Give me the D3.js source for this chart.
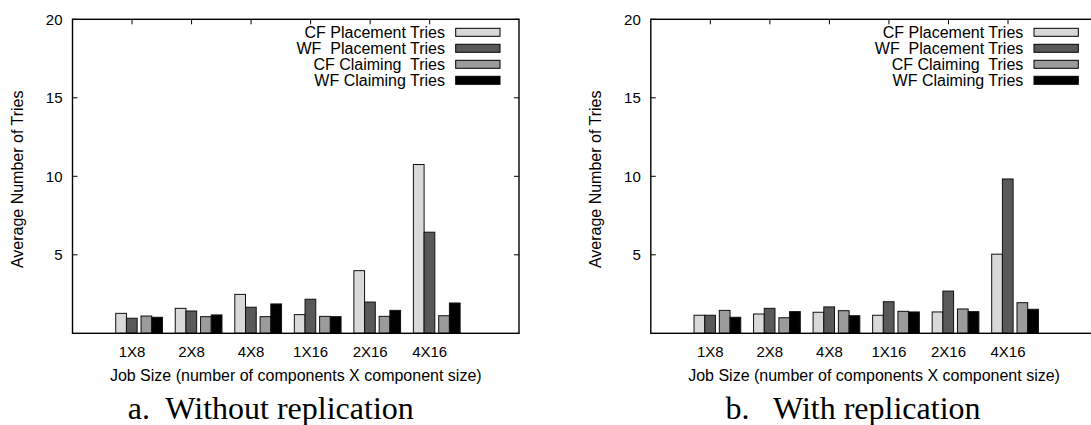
<!DOCTYPE html>
<html>
<head>
<meta charset="utf-8">
<script src="https://cdn.jsdelivr.net/npm/d3@7"></script>
<style>
  html, body { margin: 0; padding: 0; background: #fff; }
  svg { display: block; }
  text { font-family: "Liberation Sans", Arial, Helvetica, sans-serif; fill: #000; white-space: pre; }
  .caption { font-family: "Liberation Serif", "Times New Roman", serif; }
</style>
</head>
<body>
<svg id="chart" width="1091" height="425"></svg>
<script>
// ---- data ----
const categories = ["1X8", "2X8", "4X8", "1X16", "2X16", "4X16"];
const seriesNames = ["CF Placement Tries", "WF  Placement Tries", "CF Claiming  Tries", "WF Claiming Tries"];
const yTicks = [5, 10, 15, 20];

// a. Without replication
const noRepCFPlacement = [1.27, 1.59, 2.48, 1.19, 3.99, 10.75];
const noRepWFPlacement = [0.96, 1.42, 1.66, 2.17, 1.99, 6.44];
const noRepCFClaiming  = [1.10, 1.06, 1.06, 1.08, 1.08, 1.12];
const noRepWFClaiming  = [1.02, 1.17, 1.87, 1.06, 1.46, 1.93];

// b. With replication
const repCFPlacement = [1.15, 1.23, 1.34, 1.15, 1.36, 5.04];
const repWFPlacement = [1.15, 1.59, 1.68, 2.01, 2.69, 9.83];
const repCFClaiming  = [1.46, 0.99, 1.44, 1.40, 1.55, 1.95];
const repWFClaiming  = [1.02, 1.38, 1.12, 1.36, 1.38, 1.53];

const captions = ["a.  Without replication", "b.   With replication"];

// ---- style / layout ----
const colors = ["#d9d9d9", "#595959", "#9b9b9b", "#000000"];
const barOffsets = [-0.274, -0.094, 0.151, 0.331];
const barWidth = 0.18;

const svg = d3.select("#chart");

function drawPanel(dx, series, caption, capShift) {
  const left = 72.5 + dx, right = 519 + dx, top = 19.3, bottom = 333.3;
  const x = d3.scaleLinear().domain([-1, 6.5]).range([left, right]);
  const y = d3.scaleLinear().domain([0, 20]).range([bottom, top]);
  const g = svg.append("g");

  // ticks (inward, mirrored)
  const tl = 5;
  categories.forEach((c, i) => {
    g.append("line").attr("x1", x(i)).attr("x2", x(i)).attr("y1", top).attr("y2", top + tl)
      .attr("stroke", "#000").attr("stroke-width", 1);
    g.append("line").attr("x1", x(i)).attr("x2", x(i)).attr("y1", bottom).attr("y2", bottom - tl)
      .attr("stroke", "#000").attr("stroke-width", 1);
  });
  yTicks.forEach(t => {
    g.append("line").attr("x1", left).attr("x2", left + tl).attr("y1", y(t)).attr("y2", y(t))
      .attr("stroke", "#000").attr("stroke-width", 1);
    g.append("line").attr("x1", right).attr("x2", right - tl).attr("y1", y(t)).attr("y2", y(t))
      .attr("stroke", "#000").attr("stroke-width", 1);
  });

  // bars
  series.forEach((vals, s) => {
    g.selectAll(null).data(vals).enter().append("rect")
      .attr("x", (d, i) => x(i + barOffsets[s]))
      .attr("width", x(barWidth) - x(0))
      .attr("y", d => y(d))
      .attr("height", d => y(0) - y(d))
      .attr("fill", colors[s])
      .attr("stroke", "#111")
      .attr("stroke-width", 1);
  });

  // frame
  g.append("rect").attr("x", left).attr("y", top).attr("width", right - left).attr("height", bottom - top)
    .attr("fill", "none").attr("stroke", "#000").attr("stroke-width", 1.4);

  // y tick labels
  yTicks.forEach(t => {
    g.append("text").attr("x", left - 10).attr("y", y(t)).attr("dy", "0.36em")
      .attr("text-anchor", "end").style("font-size", "15px").text(t);
  });
  // x tick labels
  categories.forEach((c, i) => {
    g.append("text").attr("x", x(i)).attr("y", 356.5)
      .attr("text-anchor", "middle").style("font-size", "15px").text(c);
  });
  // axis titles
  g.append("text").attr("x", (left + right) / 2).attr("y", 381)
    .attr("text-anchor", "middle").style("font-size", "16px")
    .text("Job Size (number of components X component size)");
  g.append("text").attr("transform", `translate(${left - 50},${(top + bottom) / 2 + 3}) rotate(-90)`)
    .attr("text-anchor", "middle").style("font-size", "16px")
    .text("Average Number of Tries");

  // legend
  seriesNames.forEach((name, s) => {
    const cy = 32.3 + 16 * s;
    g.append("rect").attr("x", right - 63.3).attr("y", cy - 4).attr("width", 44.3).attr("height", 8)
      .attr("fill", colors[s]).attr("stroke", "#000").attr("stroke-width", 1);
    g.append("text").attr("x", right - 74).attr("y", cy).attr("dy", "0.36em")
      .attr("text-anchor", "end").style("font-size", "16px").text(name);
  });

  // caption
  g.append("text").attr("class", "caption").attr("x", (left + right) / 2 + capShift).attr("y", 419)
    .attr("text-anchor", "middle").style("font-size", "32px").text(caption);
}

drawPanel(0, [noRepCFPlacement, noRepWFPlacement, noRepCFClaiming, noRepWFClaiming], captions[0], -25);
drawPanel(578.3, [repCFPlacement, repWFPlacement, repCFClaiming, repWFClaiming], captions[1], -21);
</script>
</body>
</html>
